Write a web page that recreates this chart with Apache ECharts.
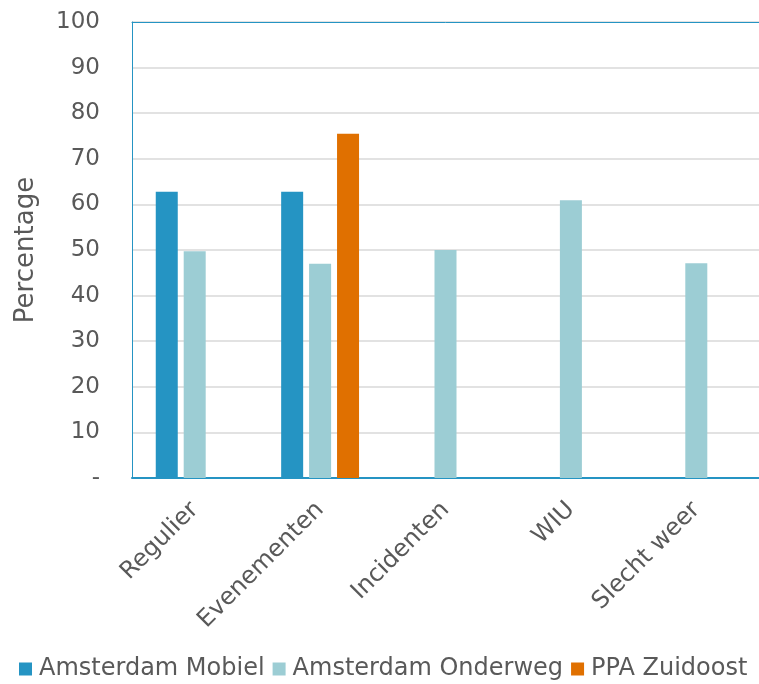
<!DOCTYPE html>
<html>
<head>
<meta charset="utf-8">
<script src="https://cdn.jsdelivr.net/npm/echarts@6/dist/echarts.min.js"></script>
<style>html,body{margin:0;padding:0;background:#fff;}#c{width:759px;height:684px;}</style>
</head>
<body>
<div id="c"></div>
<script>
const categories = ['Regulier', 'Evenementen', 'Incidenten', 'WIU', 'Slecht weer'];
const seriesNames = ['Amsterdam Mobiel', 'Amsterdam Onderweg', 'PPA Zuidoost'];
const mobiel = [62.8, 62.8, null, null, null];
const onderweg = [49.7, 47.0, 50.0, 60.9, 47.1];
const ppa = [null, 75.5, null, null, null];
const yTicks = [0, 10, 20, 30, 40, 50, 60, 70, 80, 90, 100];

const FONT = 'Verdana, "DejaVu Sans", sans-serif';
const TXT = '#595959';
const BLUE = '#2594c3';

const chart = echarts.init(document.getElementById('c'), null, {renderer: 'canvas'});
chart.setOption({
  animation: false,
  color: [BLUE, '#9ccdd4', '#e07000'],
  grid: {
    left: 132, top: 22, right: -1, bottom: 206
  },
  legend: {
    bottom: -2, left: 14,
    itemWidth: 13, itemHeight: 13, itemGap: 8,
    icon: 'rect',
    textStyle: {fontFamily: FONT, fontSize: 24, color: TXT, padding: [0, 0, 0, 2]},
    data: seriesNames
  },
  xAxis: [{
    type: 'category',
    data: categories,
    axisLine: {lineStyle: {color: BLUE, width: 2}},
    axisTick: {show: false},
    axisLabel: {rotate: 45, fontFamily: FONT, fontSize: 24, color: TXT, margin: 28, interval: 0}
  }, {
    type: 'category',
    position: 'top',
    data: categories,
    axisLine: {show: true, lineStyle: {color: BLUE, width: 1}},
    axisTick: {show: false},
    axisLabel: {show: false},
    splitLine: {show: false}
  }],
  yAxis: {
    type: 'value',
    min: yTicks[0], max: yTicks[yTicks.length - 1], interval: 10,
    name: 'Percentage',
    nameLocation: 'middle',
    nameGap: 93,
    nameTextStyle: {fontFamily: FONT, fontSize: 26, color: TXT},
    axisLine: {show: true, lineStyle: {color: BLUE, width: 1}},
    axisTick: {show: false},
    splitLine: {lineStyle: {color: '#d9d9d9', width: 1.5}},
    axisLabel: {
      fontFamily: FONT, fontSize: 23, color: TXT, margin: 32,
      formatter: v => v === 0 ? '-' : String(v)
    }
  },
  series: [
    {name: seriesNames[0], type: 'bar', data: mobiel, barWidth: 22, barGap: '27%'},
    {name: seriesNames[1], type: 'bar', data: onderweg, barWidth: 22, barGap: '27%'},
    {name: seriesNames[2], type: 'bar', data: ppa, barWidth: 22, barGap: '27%'}
  ]
});
</script>
</body>
</html>
